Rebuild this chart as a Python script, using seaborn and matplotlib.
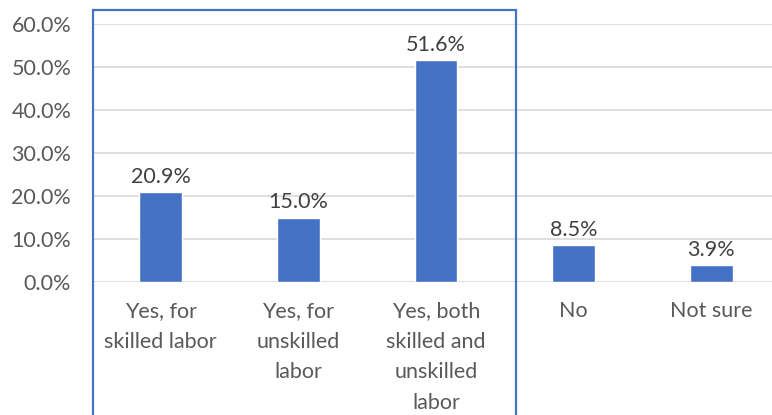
import matplotlib
matplotlib.use("Agg")
import matplotlib.pyplot as plt
import seaborn as sns
import pandas as pd
from matplotlib.patches import Rectangle
from matplotlib.ticker import PercentFormatter

categories = ["Yes, for\nskilled labor", "Yes, for\nunskilled\nlabor",
              "Yes, both\nskilled and\nunskilled\nlabor", "No", "Not sure"]
values = [20.9, 15.0, 51.6, 8.5, 3.9]
y_ticks = [0, 10, 20, 30, 40, 50, 60]

sns.set_style("white")
plt.rcParams['font.family'] = ['Lato', 'DejaVu Sans']

df = pd.DataFrame({"cat": categories, "val": values})

fig = plt.figure(figsize=(7.72, 4.15), dpi=100)
ax = fig.add_axes([92/772, 1-282/415, (780-92)/772, (282-24)/415])

sns.barplot(data=df, x="cat", y="val", color="#4472C4", saturation=1,
            width=0.31, ax=ax, zorder=3)

ax.set_ylim(0, 60)
ax.set_xlim(-0.5, 4.5)
ax.set_yticks(y_ticks)
ax.yaxis.set_major_formatter(PercentFormatter(decimals=1))
ax.grid(axis="y", color="#d9d9d9", linewidth=1.2, zorder=0)
ax.set_axisbelow(True)
for s in ax.spines.values():
    s.set_visible(False)
ax.set_xlabel("")
ax.set_ylabel("")
ax.tick_params(axis="both", length=0, colors="#595959", labelsize=15.5)
ax.tick_params(axis="y", pad=15)
ax.tick_params(axis="x", pad=14)
for lbl in ax.get_xticklabels():
    lbl.set_linespacing(1.65)
    lbl.set_verticalalignment("top")

for i, v in enumerate(values):
    ax.annotate(f"{v:.1f}%", (i, v), xytext=(0, 4), textcoords="offset points",
                ha="center", va="bottom", fontsize=15.5, color="#404040")

rect = Rectangle((93/772, -0.05), (516-93)/772, 1-10/415+0.05,
                 transform=fig.transFigure, fill=False, edgecolor="#4472C4",
                 linewidth=1.6, clip_on=False, zorder=10)
fig.add_artist(rect)

fig.savefig("out.png", dpi=100)
